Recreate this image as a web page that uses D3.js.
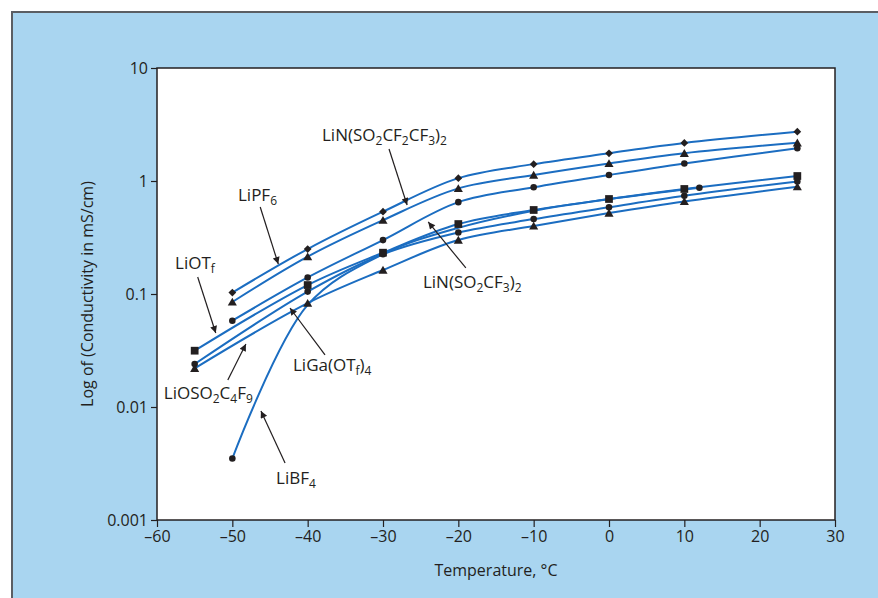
<!DOCTYPE html>
<html>
<head>
<meta charset="utf-8">
<script src="https://cdn.jsdelivr.net/npm/d3@7"></script>
<style>
  html, body { margin: 0; padding: 0; background: #fff; }
  svg { display: block; font-family: 'Open Sans', 'Noto Sans', sans-serif; }
</style>
</head>
<body>
<svg id="chart" width="878" height="598"></svg>
<script>
// Temperatures (degrees C) for each group of curves.
const tempsHigh = [-50, -40, -30, -20, -10, 0, 10, 25];
const tempsLow = [-55, -40, -30, -20, -10, 0, 10, 25];
const tempsBF4 = [-50, -40, -30, -20, -10, 0, 12];

// Conductivity values, mS/cm.
const liPF6 = [0.103, 0.25, 0.535, 1.06, 1.41, 1.76, 2.17, 2.73];
const liBETI = [0.085, 0.214, 0.45, 0.86, 1.13, 1.43, 1.76, 2.18];
const liImide = [0.058, 0.14, 0.30, 0.65, 0.88, 1.13, 1.43, 1.95];
const liOTf = [0.0315, 0.12, 0.232, 0.416, 0.554, 0.693, 0.85, 1.107];
const liGa = [0.024, 0.105, 0.225, 0.35, 0.46, 0.585, 0.74, 0.99];
const liNonaflate = [0.022, 0.083, 0.163, 0.30, 0.40, 0.52, 0.66, 0.89];
const liBF4 = [0.0035, 0.08, 0.225, 0.385, 0.545, 0.69, 0.87];
// Only the end points of the LiBF4 curve carry a marker.
const liBF4Marked = [true, false, false, false, false, false, true];

// Axis ticks.
const xTicks = [-60, -50, -40, -30, -20, -10, 0, 10, 20, 30];
const yTicks = [0.001, 0.01, 0.1, 1, 10];
const yTickLabels = ['0.001', '0.01', '0.1', '1', '10'];

// Annotations: label pieces [text, isSubscript], label anchor, arrow tail/tip
// (all in data units).
const notes = [
  {parts: [['LiN(SO', 0], ['2', 1], ['CF', 0], ['2', 1], ['CF', 0], ['3', 1], [')', 0], ['2', 1]],
    at: [-38.1, 2.55], from: [-29.2, 1.92], to: [-26.8, 0.613]},
  {parts: [['LiPF', 0], ['6', 1]],
    at: [-49.25, 0.752], from: [-46.3, 0.589], to: [-43.9, 0.184]},
  {parts: [['LiOT', 0], ['f', 1]],
    at: [-57.6, 0.188], from: [-54.6, 0.1414], to: [-52.2, 0.0452]},
  {parts: [['LiN(SO', 0], ['2', 1], ['CF', 0], ['3', 1], [')', 0], ['2', 1]],
    at: [-24.7, 0.1277], from: [-19.0, 0.170], to: [-24.0, 0.434]},
  {parts: [['LiGa(OT', 0], ['f', 1], [')', 0], ['4', 1]],
    at: [-41.95, 0.02354], from: [-37.7, 0.0289], to: [-42.35, 0.0752]},
  {parts: [['LiOSO', 0], ['2', 1], ['C', 0], ['4', 1], ['F', 0], ['9', 1]],
    at: [-59.1, 0.0133], from: [-50.6, 0.01734], to: [-48.2, 0.0361]},
  {parts: [['LiBF', 0], ['4', 1]],
    at: [-44.2, 0.002355], from: [-43.0, 0.003194], to: [-46.2, 0.00922]},
];

const width = 878;
const height = 598;
const margin = {top: 68, right: 43, bottom: 78, left: 157};
const blue = '#1b6dc1';
const ink = '#231f20';
const panel = '#a9d5f0';

const svg = d3.select('#chart');

// Background panel with a dark edge on top and left.
svg.append('rect')
  .attr('x', 12).attr('y', 12)
  .attr('width', width - 12).attr('height', height - 12)
  .attr('fill', panel);
svg.append('path')
  .attr('d', `M12,${height}V12H${width}`)
  .attr('fill', 'none')
  .attr('stroke', '#5b5e63')
  .attr('stroke-width', 2);

const xScale = d3.scaleLinear()
  .domain([-60, 30])
  .range([margin.left, width - margin.right]);
const yScale = d3.scaleLog()
  .domain([0.001, 10])
  .range([height - margin.bottom, margin.top]);

// Plot area.
svg.append('rect')
  .attr('x', margin.left).attr('y', margin.top)
  .attr('width', width - margin.left - margin.right)
  .attr('height', height - margin.top - margin.bottom)
  .attr('fill', '#fff')
  .attr('stroke', ink)
  .attr('stroke-width', 1.5);

// Axes
const xAxis = d3.axisBottom(xScale)
  .tickValues(xTicks)
  .tickSize(7)
  .tickPadding(4)
  .tickFormat((d) => (d < 0 ? '\u2013' + Math.abs(d) : String(d)));
const yAxis = d3.axisLeft(yScale)
  .tickValues(yTicks)
  .tickSize(6)
  .tickPadding(3)
  .tickFormat((d, i) => yTickLabels[i]);

const gx = svg.append('g')
  .attr('transform', `translate(0, ${height - margin.bottom})`)
  .call(xAxis);
const gy = svg.append('g')
  .attr('transform', `translate(${margin.left}, 0)`)
  .call(yAxis);
[gx, gy].forEach((g) => {
  g.select('.domain').remove();
  g.selectAll('line').attr('stroke', ink).attr('stroke-width', 1.2);
  g.selectAll('text')
    .attr('fill', ink)
    .attr('font-family', "'Open Sans', 'Noto Sans', sans-serif")
    .attr('font-size', 16);
});

// Axis titles
svg.append('text')
  .attr('x', 496)
  .attr('y', 576)
  .attr('text-anchor', 'middle')
  .attr('font-size', 16)
  .attr('fill', ink)
  .text('Temperature, \u00b0C');
svg.append('text')
  .attr('transform', `translate(93, ${(margin.top + height - margin.bottom) / 2}) rotate(-90)`)
  .attr('text-anchor', 'middle')
  .attr('font-size', 16)
  .attr('fill', ink)
  .text('Log of (Conductivity in mS/cm)');

// Series: temperatures, values, marker shape.
const series = [
  {t: tempsHigh, v: liPF6, shape: 'diamond'},
  {t: tempsHigh, v: liBETI, shape: 'triangle'},
  {t: tempsHigh, v: liImide, shape: 'circle'},
  {t: tempsLow, v: liOTf, shape: 'square'},
  {t: tempsLow, v: liGa, shape: 'circle'},
  {t: tempsLow, v: liNonaflate, shape: 'triangle'},
  {t: tempsBF4, v: liBF4, shape: 'circle', marked: liBF4Marked},
];

const line = d3.line()
  .x((d) => xScale(d[0]))
  .y((d) => yScale(d[1]))
  .curve(d3.curveCatmullRom.alpha(0.5));

const lines = svg.append('g');
series.forEach((s) => {
  lines.append('path')
    .datum(s.t.map((t, i) => [t, s.v[i]]))
    .attr('d', line)
    .attr('fill', 'none')
    .attr('stroke', blue)
    .attr('stroke-width', 2);
});

const symbols = {
  diamond: d3.symbol().type(d3.symbolSquare).size(30),
  triangle: d3.symbol().type(d3.symbolTriangle).size(36),
  circle: d3.symbol().type(d3.symbolCircle).size(34),
  square: d3.symbol().type(d3.symbolSquare).size(60),
};

const markers = svg.append('g').attr('fill', ink);
series.forEach((s) => {
  const pts = s.t.map((t, i) => [t, s.v[i]])
    .filter((d, i) => !s.marked || s.marked[i]);
  markers.selectAll(null)
    .data(pts)
    .join('path')
    .attr('d', symbols[s.shape])
    .attr('transform', (d) => {
      const rot = s.shape === 'diamond' ? ' rotate(45)' : '';
      const dy = s.shape === 'triangle' ? 1 : 0;
      return `translate(${xScale(d[0])}, ${yScale(d[1]) + dy})${rot}`;
    });
});

// Arrowhead
svg.append('defs').append('marker')
  .attr('id', 'arrow')
  .attr('viewBox', '0 0 10 10')
  .attr('refX', 10).attr('refY', 5)
  .attr('markerWidth', 11).attr('markerHeight', 7)
  .attr('markerUnits', 'userSpaceOnUse')
  .attr('orient', 'auto')
  .append('path')
  .attr('d', 'M0,0L10,5L0,10z')
  .attr('fill', ink);

const annot = svg.append('g');
notes.forEach((n) => {
  annot.append('line')
    .attr('x1', xScale(n.from[0])).attr('y1', yScale(n.from[1]))
    .attr('x2', xScale(n.to[0])).attr('y2', yScale(n.to[1]))
    .attr('stroke', ink)
    .attr('stroke-width', 1.2)
    .attr('marker-end', 'url(#arrow)');
  const txt = annot.append('text')
    .attr('x', xScale(n.at[0]))
    .attr('y', yScale(n.at[1]) + 6)
    .attr('font-size', 17)
    .attr('fill', ink);
  let prevSub = 0;
  n.parts.forEach(([s, sub]) => {
    txt.append('tspan')
      .attr('dy', sub === prevSub ? 0 : (sub ? 4 : -4))
      .attr('font-size', sub ? 12 : 17)
      .text(s);
    prevSub = sub;
  });
});
</script>
</body>
</html>
